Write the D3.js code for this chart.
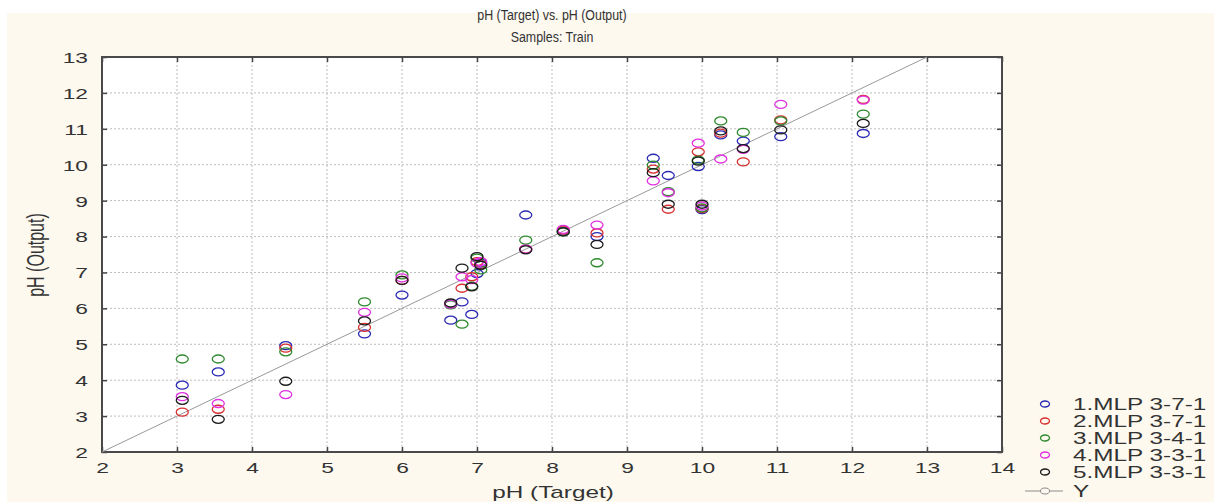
<!DOCTYPE html>
<html>
<head>
<meta charset="utf-8">
<script src="https://cdn.jsdelivr.net/npm/d3@7"></script>
<style>
  body { margin: 0; background: #fff; }
  text { font-family: "Liberation Sans", Arial, sans-serif; fill: #333; }
</style>
</head>
<body>
<svg id="chart"></svg>
<script>
// pH target vs output, five MLP nets
const targets = [3.07, 3.55, 4.45, 5.5, 6.0, 6.65, 6.8, 6.93, 7.0, 7.05, 7.65, 8.15, 8.6, 9.35, 9.55, 9.95, 10.0, 10.25, 10.55, 11.05, 12.15];

const mlp1 = [3.86, 4.23, 4.96, 5.29, 6.37, 5.67, 6.18, 5.83, 6.97, 7.26, 8.6, 8.15, 8.0, 10.18, 9.7, 9.95, 8.75, 10.83, 10.66, 10.78, 10.87];
const mlp2 = [3.11, 3.19, 4.89, 5.47, 6.78, 6.12, 6.56, 6.88, 7.3, 7.22, 7.65, 8.18, 8.1, 9.88, 8.76, 10.36, 8.78, 10.88, 10.08, 11.25, 11.82];
const mlp3 = [4.59, 4.59, 4.79, 6.18, 6.93, 6.1, 5.56, 6.62, 7.4, 7.07, 7.9, 8.13, 7.27, 9.99, 9.25, 10.13, 8.8, 11.22, 10.9, 11.22, 11.41];
const mlp4 = [3.54, 3.35, 3.6, 5.89, 6.85, 6.12, 6.88, 6.8, 7.26, 7.3, 7.65, 8.2, 8.32, 9.55, 9.22, 10.6, 8.85, 10.16, 10.43, 11.68, 11.8];
const mlp5 = [3.44, 2.91, 3.97, 5.65, 6.78, 6.15, 7.12, 6.6, 7.44, 7.2, 7.63, 8.13, 7.78, 9.78, 8.9, 10.1, 8.9, 10.94, 10.45, 10.97, 11.15];

const seriesNames = ['1.MLP 3-7-1', '2.MLP 3-7-1', '3.MLP 3-4-1', '4.MLP 3-3-1', '5.MLP 3-3-1'];
const seriesValues = [mlp1, mlp2, mlp3, mlp4, mlp5];
const colors = ['#2a2ab4', '#d83030', '#2e8a2e', '#e030e0', '#1c1c1c'];

const xTicks = d3.range(2, 15);
const yTicks = d3.range(2, 14);

const W = 1214, H = 502;
const svg = d3.select('#chart').attr('width', W).attr('height', H);

const margin = {top: 57, right: 212, bottom: 50, left: 102},
    width = W - margin.left - margin.right,
    height = H - margin.top - margin.bottom;

const SX = 1.52; // text is stretched sideways in the original

// cream backdrop
svg.append('rect')
  .attr('x', 7).attr('y', 13)
  .attr('width', W - 7).attr('height', H - 13)
  .attr('fill', '#fdf9ef');

svg.append('g')
  .attr('transform', 'translate(552,20) scale(0.8,1)')
  .append('text')
  .attr('text-anchor', 'middle')
  .attr('font-size', 15.5)
  .text('pH (Target) vs. pH (Output)');

svg.append('g')
  .attr('transform', 'translate(552,42) scale(0.8,1)')
  .append('text')
  .attr('text-anchor', 'middle')
  .attr('font-size', 15.5)
  .text('Samples: Train');

const g = svg.append('g')
  .attr('transform', 'translate(' + margin.left + ',' + margin.top + ')');

const x = d3.scaleLinear().domain([2, 14]).range([0, width]);
const y = d3.scaleLinear().domain([2, 13]).range([height, 0]);

g.append('rect')
  .attr('width', width).attr('height', height)
  .attr('fill', '#fff');

// grid
g.append('g').selectAll('line')
  .data(xTicks.slice(1, -1))
  .enter().append('line')
  .attr('x1', d => x(d)).attr('x2', d => x(d))
  .attr('y1', 0).attr('y2', height)
  .attr('stroke', '#bdbdbd').attr('stroke-dasharray', '2,2');

g.append('g').selectAll('line')
  .data(yTicks.slice(1, -1))
  .enter().append('line')
  .attr('y1', d => y(d)).attr('y2', d => y(d))
  .attr('x1', 0).attr('x2', width)
  .attr('stroke', '#bdbdbd').attr('stroke-dasharray', '2,2');

// axes
const xAxis = d3.axisBottom(x).tickValues(xTicks).tickSize(-5).tickFormat(d3.format('d'));
const yAxis = d3.axisLeft(y).tickValues(yTicks).tickSize(-5).tickFormat(d3.format('d'));

const gx = g.append('g').attr('transform', 'translate(0,' + height + ')').call(xAxis);
gx.selectAll('text')
  .attr('y', 21).attr('dy', 0)
  .attr('font-size', 15)
  .attr('transform', 'scale(' + SX + ',1)');

const gy = g.append('g').call(yAxis);
gy.selectAll('text')
  .attr('x', -14 / SX).attr('dy', '0.36em')
  .attr('font-size', 15)
  .attr('transform', 'scale(' + SX + ',1)');

g.append('g').attr('transform', 'translate(' + width + ',0)')
  .call(d3.axisRight(y).tickValues(yTicks).tickSize(-5).tickFormat(''));
g.append('g')
  .call(d3.axisTop(x).tickValues(xTicks).tickSize(-5).tickFormat(''));

g.selectAll('.domain').attr('stroke', 'none');
g.selectAll('.tick line').attr('stroke', '#444').attr('stroke-width', 1.5);

g.append('rect')
  .attr('width', width).attr('height', height)
  .attr('fill', 'none').attr('stroke', '#4a4a4a').attr('stroke-width', 2);

// identity line
g.append('line')
  .attr('x1', x(2)).attr('y1', y(2))
  .attr('x2', x(13)).attr('y2', y(13))
  .attr('stroke', '#999').attr('stroke-width', 1);

// points
seriesValues.forEach((vals, i) => {
  g.append('g').selectAll('ellipse')
    .data(vals)
    .enter().append('ellipse')
    .attr('cx', (d, j) => x(targets[j]))
    .attr('cy', d => y(d))
    .attr('rx', 6).attr('ry', 4)
    .attr('fill', 'none')
    .attr('stroke', colors[i])
    .attr('stroke-width', 1.3);
});

// axis titles
svg.append('g')
  .attr('transform', 'translate(553,498) scale(' + SX + ',1)')
  .append('text')
  .attr('text-anchor', 'middle')
  .attr('font-size', 16)
  .text('pH (Target)');

svg.append('g')
  .attr('transform', 'translate(44,255) rotate(-90) scale(1,' + SX + ')')
  .append('text')
  .attr('text-anchor', 'middle')
  .attr('font-size', 16)
  .text('pH (Output)');

// legend
const legend = svg.append('g').attr('transform', 'translate(1045,404)');
seriesNames.forEach((name, i) => {
  const row = legend.append('g').attr('transform', 'translate(0,' + (i * 17) + ')');
  row.append('ellipse')
    .attr('rx', 4.5).attr('ry', 3)
    .attr('fill', 'none').attr('stroke', colors[i]).attr('stroke-width', 1.3);
  row.append('g')
    .attr('transform', 'translate(28,0) scale(' + SX + ',1)')
    .append('text')
    .attr('dy', '0.36em')
    .attr('font-size', 16)
    .text(name);
});
const yRow = legend.append('g').attr('transform', 'translate(0,' + (5 * 17 + 2) + ')');
yRow.append('line')
  .attr('x1', -20).attr('x2', 18)
  .attr('stroke', '#8c8c8c');
yRow.append('ellipse')
  .attr('rx', 4.5).attr('ry', 3)
  .attr('fill', '#fdf9ef').attr('stroke', '#8c8c8c');
yRow.append('g')
  .attr('transform', 'translate(28,0) scale(' + SX + ',1)')
  .append('text')
  .attr('dy', '0.36em')
  .attr('font-size', 16)
  .text('Y');
</script>
</body>
</html>
